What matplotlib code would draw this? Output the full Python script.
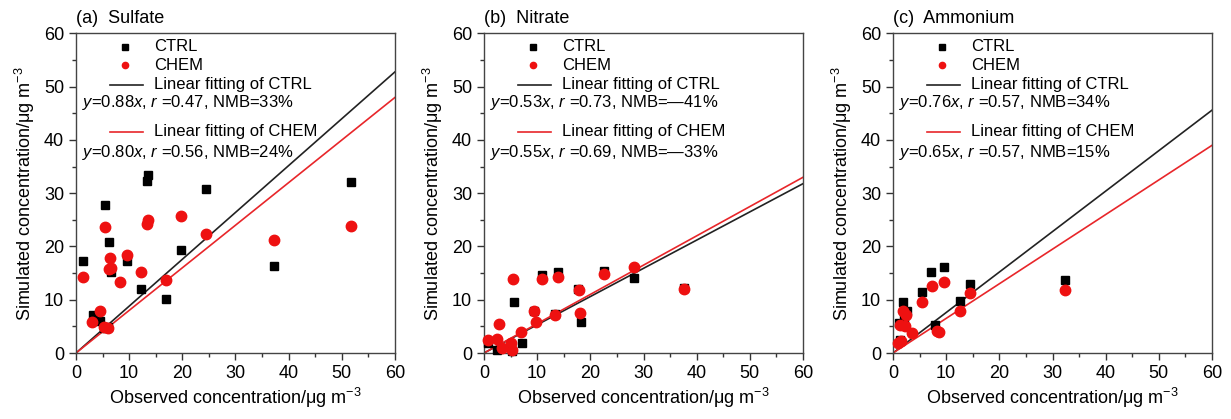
import matplotlib.pyplot as plt
from matplotlib.ticker import MultipleLocator

plt.rcParams['font.family'] = ['Liberation Sans', 'DejaVu Sans']
plt.rcParams['mathtext.fontset'] = 'custom'
plt.rcParams['mathtext.rm'] = 'Liberation Sans'
plt.rcParams['mathtext.it'] = 'Liberation Sans:italic'

# (a) Sulfate
sulf_ctrl_x = [1.4, 13.6, 13.3, 24.4, 51.8, 5.4, 6.2, 6.6, 9.5, 19.7, 37.2, 12.2, 17.0, 3.2, 4.5, 5.3, 6.0]
sulf_ctrl_y = [17.2, 33.4, 32.3, 30.8, 32.1, 27.8, 20.9, 15.3, 17.3, 19.4, 16.4, 12.1, 10.1, 7.2, 6.1, 4.7, 4.8]
sulf_chem_x = [1.4, 5.4, 13.4, 13.6, 19.7, 24.4, 37.2, 51.8, 6.4, 6.2, 6.6, 9.5, 12.2, 8.3, 17.0, 4.5, 3.1, 5.2, 6.0]
sulf_chem_y = [14.2, 23.7, 24.3, 24.9, 25.8, 22.3, 21.3, 23.9, 17.8, 15.8, 15.9, 18.4, 15.3, 13.3, 13.8, 7.9, 5.9, 4.8, 4.7]

# (b) Nitrate
nitr_ctrl_x = [10.9, 14.0, 22.5, 28.3, 37.7, 5.6, 17.7, 13.4, 18.2, 9.4, 7.2, 2.5, 0.7, 5.2]
nitr_ctrl_y = [14.7, 15.3, 15.4, 14.1, 12.3, 9.5, 12.1, 7.4, 5.9, 7.9, 1.9, 0.6, 1.8, 0.3]
nitr_chem_x = [5.4, 10.9, 14.0, 22.5, 28.3, 37.7, 17.9, 9.4, 9.7, 13.4, 18.1, 2.8, 7.0, 0.7, 2.5, 5.0, 5.3, 3.4]
nitr_chem_y = [13.9, 13.9, 14.3, 14.8, 16.2, 12.0, 11.8, 7.8, 5.9, 7.1, 7.5, 5.4, 4.0, 2.5, 2.6, 1.8, 0.5, 0.9]

# (c) Ammonium
ammo_ctrl_x = [7.1, 9.6, 5.4, 14.5, 32.3, 12.6, 1.9, 2.7, 1.2, 7.9, 1.3, 2.0]
ammo_ctrl_y = [15.3, 16.1, 11.5, 13.0, 13.8, 9.8, 9.6, 7.8, 5.6, 5.3, 2.4, 6.5]
ammo_chem_x = [7.3, 9.6, 5.4, 14.5, 32.3, 12.6, 1.9, 2.4, 1.3, 2.3, 3.5, 8.3, 8.6, 1.5, 0.9]
ammo_chem_y = [12.6, 13.3, 9.6, 11.3, 11.9, 7.8, 7.8, 7.2, 5.3, 5.0, 3.8, 4.2, 3.9, 2.2, 1.9]

titles = ['(a)  Sulfate', '(b)  Nitrate', '(c)  Ammonium']
ctrl_slope = [0.88, 0.53, 0.76]
chem_slope = [0.80, 0.55, 0.65]
ctrl_r = [0.47, 0.73, 0.57]
chem_r = [0.56, 0.69, 0.57]
ctrl_nmb = ['33%', '\u201441%', '34%']
chem_nmb = ['24%', '\u201433%', '15%']

ctrl_x = [sulf_ctrl_x, nitr_ctrl_x, ammo_ctrl_x]
ctrl_y = [sulf_ctrl_y, nitr_ctrl_y, ammo_ctrl_y]
chem_x = [sulf_chem_x, nitr_chem_x, ammo_chem_x]
chem_y = [sulf_chem_y, nitr_chem_y, ammo_chem_y]

fig = plt.figure(figsize=(12.31, 4.19), dpi=100)
lefts = [76 / 1231, 484 / 1231, 893 / 1231]

for i in range(3):
    ax = fig.add_axes([lefts[i], 66 / 419, 319 / 1231, 319.5 / 419])

    # lineas de ajuste
    xs = [0, 60]
    ax.plot(xs, [ctrl_slope[i] * v for v in xs], color='#222222', lw=1.2, zorder=2)
    ax.plot(xs, [chem_slope[i] * v for v in xs], color='#e8262a', lw=1.2, zorder=2)

    # puntos
    ax.plot(ctrl_x[i], ctrl_y[i], 's', color='black', ms=6, ls='none', zorder=3, clip_on=False)
    ax.plot(chem_x[i], chem_y[i], 'o', color='#ee1111', ms=7.5, ls='none', zorder=4, clip_on=False)

    ax.set_xlim(0, 60)
    ax.set_ylim(0, 60)
    ax.xaxis.set_major_locator(MultipleLocator(10))
    ax.yaxis.set_major_locator(MultipleLocator(10))
    ax.xaxis.set_minor_locator(MultipleLocator(5))
    ax.yaxis.set_minor_locator(MultipleLocator(5))
    ax.tick_params(which='major', direction='out', length=5, width=1, labelsize=13, color='#333333')
    ax.tick_params(which='minor', direction='out', length=3, width=1, color='#333333')
    for s in ax.spines.values():
        s.set_color('#444444')
        s.set_linewidth(1)

    ax.set_xlabel('Observed concentration/\u03bcg m$^{-3}$', fontsize=13, labelpad=3)
    ax.set_ylabel('Simulated concentration/\u03bcg m$^{-3}$', fontsize=13, labelpad=5)
    ax.text(0.0, 1.02, titles[i], transform=ax.transAxes, fontsize=13, ha='left', va='bottom')

    # leyenda a mano
    tr = ax.transAxes
    ax.plot([0.154], [0.958], 's', color='black', ms=4, transform=tr)
    ax.text(0.245, 0.958, 'CTRL', transform=tr, fontsize=12, va='center')
    ax.plot([0.154], [0.901], 'o', color='#ee1111', ms=4.5, transform=tr)
    ax.text(0.245, 0.901, 'CHEM', transform=tr, fontsize=12, va='center')
    ax.plot([0.107, 0.211], [0.839, 0.839], color='#222222', lw=1.2, transform=tr)
    ax.text(0.245, 0.839, 'Linear fitting of CTRL', transform=tr, fontsize=12, va='center')
    ax.text(0.019, 0.783,
            '$y$=%.2f$x$, $r$ =%.2f, NMB=%s' % (ctrl_slope[i], ctrl_r[i], ctrl_nmb[i]),
            transform=tr, fontsize=12, va='center')
    ax.plot([0.107, 0.211], [0.692, 0.692], color='#e8262a', lw=1.2, transform=tr)
    ax.text(0.245, 0.692, 'Linear fitting of CHEM', transform=tr, fontsize=12, va='center')
    ax.text(0.019, 0.629,
            '$y$=%.2f$x$, $r$ =%.2f, NMB=%s' % (chem_slope[i], chem_r[i], chem_nmb[i]),
            transform=tr, fontsize=12, va='center')

plt.savefig('out.png', dpi=100)
